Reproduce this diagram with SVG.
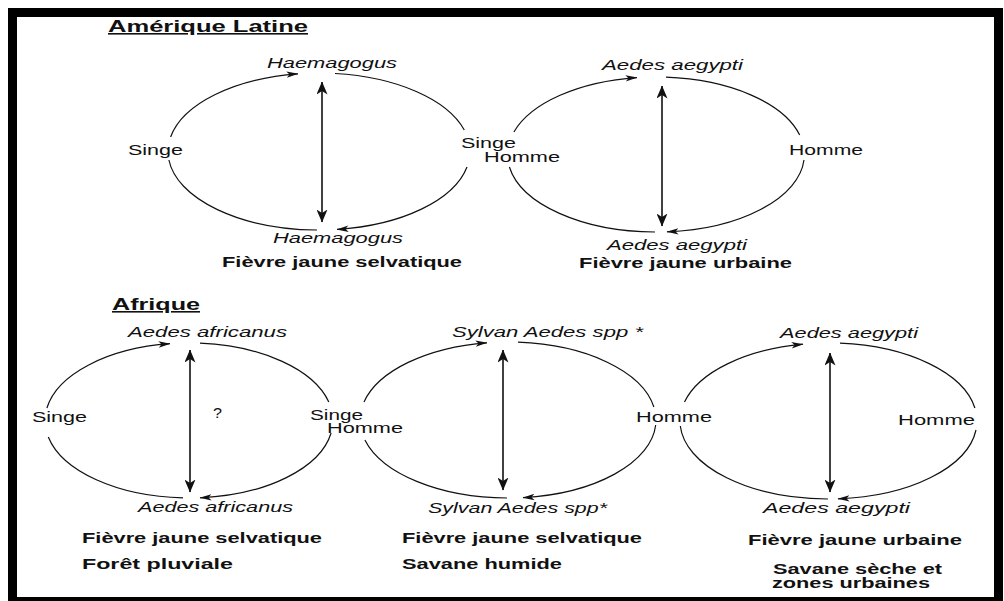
<svg xmlns="http://www.w3.org/2000/svg" width="1004" height="601" viewBox="0 0 1004 601">
<style>
.t{font-family:"Liberation Sans",Arial,Helvetica,sans-serif;font-size:14px;fill:#111}
.i{font-style:italic}
.b{font-weight:bold}
.h{font-weight:bold;font-size:16px;text-decoration:underline}
.arc{fill:none;stroke:#111;stroke-width:1.2}
.va{stroke:#111;stroke-width:1.6;marker-start:url(#vh);marker-end:url(#vh)}
</style>
<defs>
<marker id="ah" viewBox="0 0 12 8" refX="11.5" refY="4" markerWidth="12" markerHeight="8" markerUnits="userSpaceOnUse" orient="auto"><path d="M0,0.8 L12,4 L0,7.2 L3,4 Z" fill="#111"/></marker>
<marker id="vh" viewBox="0 0 13 11" refX="12.5" refY="5.5" markerWidth="13" markerHeight="11" markerUnits="userSpaceOnUse" orient="auto-start-reverse"><path d="M0,0 L13,5.5 L0,11 L3.5,5.5 Z" fill="#111"/></marker>
</defs>
<rect width="1004" height="601" fill="#fff"/>
<rect id="frame" x="12.5" y="12.5" width="986" height="589" fill="none" stroke="#000" stroke-width="9"/>

<g id="connectors">
<path class="arc" marker-end="url(#ah)" d="M170.6,137 A151,78.5 0 0 1 298,73.8"/>
<path class="arc" d="M335,73.5 A151,78.5 0 0 1 464.3,130"/>
<path class="arc" marker-end="url(#ah)" d="M467,167 A151,78.5 0 0 1 337,229.4"/>
<path class="arc" d="M317,230 A151,78.5 0 0 1 168.9,160"/>
<line class="va" x1="322" y1="82" x2="322" y2="222"/>

<path class="arc" marker-end="url(#ah)" d="M513.9,132 A148.5,77.5 0 0 1 637,77.6"/>
<path class="arc" d="M666,77.2 A148.5,77.5 0 0 1 799.7,135"/>
<path class="arc" marker-end="url(#ah)" d="M804,160 A148.5,77.5 0 0 1 667,231.8"/>
<path class="arc" d="M655,232 A148.5,77.5 0 0 1 509.4,167"/>
<line class="va" x1="662" y1="86" x2="662" y2="226"/>

<path class="arc" marker-end="url(#ah)" d="M46.9,408 A144,77.5 0 0 1 170,343.7"/>
<path class="arc" d="M200,343.2 A144,77.5 0 0 1 328.8,402"/>
<path class="arc" marker-end="url(#ah)" d="M331.1,433 A144,77.5 0 0 1 200,497.8"/>
<path class="arc" d="M183,497.9 A144,77.5 0 0 1 48.3,437"/>
<line class="va" x1="190" y1="350" x2="190" y2="492"/>

<path class="arc" marker-end="url(#ah)" d="M364,402 A148,78 0 0 1 487,342.8"/>
<path class="arc" d="M518,342.2 A148,78 0 0 1 653.9,407"/>
<path class="arc" marker-end="url(#ah)" d="M655.7,425 A148,78 0 0 1 523,497.6"/>
<path class="arc" d="M507,498 A148,78 0 0 1 364.9,440"/>
<line class="va" x1="503" y1="350" x2="503" y2="490"/>

<path class="arc" marker-end="url(#ah)" d="M684.5,402 A148.5,78 0 0 1 803,344.2"/>
<path class="arc" d="M840,343.2 A148.5,78 0 0 1 974.9,408"/>
<path class="arc" marker-end="url(#ah)" d="M976,430 A148.5,78 0 0 1 838,498.8"/>
<path class="arc" d="M828,499 A148.5,78 0 0 1 680.3,426"/>
<line class="va" x1="830" y1="353" x2="830" y2="492"/>
</g>

<g id="title-amerique"><text class="t h" x="108" y="32" textLength="200" lengthAdjust="spacingAndGlyphs">Amérique Latine</text></g>
<g id="al-sylv">
<text class="t i" x="267" y="68" textLength="130" lengthAdjust="spacingAndGlyphs">Haemagogus</text>
<text class="t" x="128" y="155" textLength="55" lengthAdjust="spacingAndGlyphs">Singe</text>
<text class="t i" x="273" y="243" textLength="130" lengthAdjust="spacingAndGlyphs">Haemagogus</text>
<text class="t b" x="222" y="267" textLength="240" lengthAdjust="spacingAndGlyphs">Fièvre jaune selvatique</text>
</g>
<g id="al-mid">
<text class="t" x="461" y="148" textLength="55" lengthAdjust="spacingAndGlyphs">Singe</text>
<text class="t" x="484" y="162" textLength="76" lengthAdjust="spacingAndGlyphs">Homme</text>
</g>
<g id="al-urb">
<text class="t i" x="602" y="70" textLength="141" lengthAdjust="spacingAndGlyphs">Aedes aegypti</text>
<text class="t" x="789" y="155" textLength="74" lengthAdjust="spacingAndGlyphs">Homme</text>
<text class="t i" x="607" y="250" textLength="140" lengthAdjust="spacingAndGlyphs">Aedes aegypti</text>
<text class="t b" x="579" y="268" textLength="213" lengthAdjust="spacingAndGlyphs">Fièvre jaune urbaine</text>
</g>

<g id="title-afrique"><text class="t h" x="112" y="310" textLength="88" lengthAdjust="spacingAndGlyphs">Afrique</text></g>
<g id="af-forest">
<text class="t i" x="128" y="337" textLength="159" lengthAdjust="spacingAndGlyphs">Aedes africanus</text>
<text class="t" x="213" y="418" textLength="9" lengthAdjust="spacingAndGlyphs">?</text>
<text class="t" x="32" y="422" textLength="55" lengthAdjust="spacingAndGlyphs">Singe</text>
<text class="t i" x="138" y="512" textLength="155" lengthAdjust="spacingAndGlyphs">Aedes africanus</text>
<text class="t b" x="82" y="543" textLength="240" lengthAdjust="spacingAndGlyphs">Fièvre jaune selvatique</text>
<text class="t b" x="82" y="569" textLength="151" lengthAdjust="spacingAndGlyphs">Forêt pluviale</text>
</g>
<g id="af-mid1">
<text class="t" x="310" y="420" textLength="53" lengthAdjust="spacingAndGlyphs">Singe</text>
<text class="t" x="327" y="433" textLength="76" lengthAdjust="spacingAndGlyphs">Homme</text>
</g>
<g id="af-savane">
<text class="t i" x="452" y="337" textLength="191" lengthAdjust="spacingAndGlyphs">Sylvan Aedes spp *</text>
<text class="t i" x="428" y="513" textLength="179" lengthAdjust="spacingAndGlyphs">Sylvan Aedes spp*</text>
<text class="t b" x="402" y="543" textLength="240" lengthAdjust="spacingAndGlyphs">Fièvre jaune selvatique</text>
<text class="t b" x="402" y="569" textLength="160" lengthAdjust="spacingAndGlyphs">Savane humide</text>
</g>
<g id="af-mid2">
<text class="t" x="636" y="422" textLength="76" lengthAdjust="spacingAndGlyphs">Homme</text>
</g>
<g id="af-urb">
<text class="t i" x="780" y="338" textLength="138" lengthAdjust="spacingAndGlyphs">Aedes aegypti</text>
<text class="t" x="898" y="425" textLength="77" lengthAdjust="spacingAndGlyphs">Homme</text>
<text class="t i" x="763" y="513" textLength="147" lengthAdjust="spacingAndGlyphs">Aedes aegypti</text>
<text class="t b" x="748" y="545" textLength="214" lengthAdjust="spacingAndGlyphs">Fièvre jaune urbaine</text>
<text class="t b" x="773" y="574" textLength="169" lengthAdjust="spacingAndGlyphs">Savane sèche et</text>
<text class="t b" x="772" y="588" textLength="158" lengthAdjust="spacingAndGlyphs">zones urbaines</text>
</g>
</svg>
